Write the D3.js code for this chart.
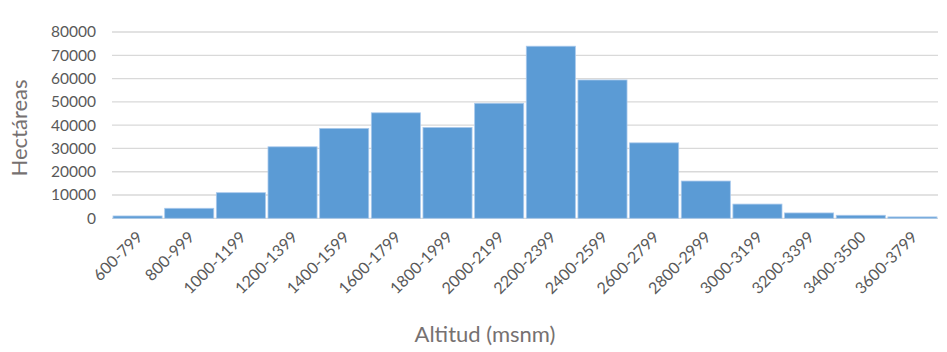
<!DOCTYPE html>
<html>
<head>
<meta charset="utf-8">
<script src="https://cdn.jsdelivr.net/npm/d3@7"></script>
<style>
  body { margin: 0; background: #fff; }
  svg { display: block; }
</style>
</head>
<body>
<svg id="chart" width="947" height="352"></svg>
<script>
// Altitude ranges (m a.s.l.) and area in hectares per range
const categories = ["600-799","800-999","1000-1199","1200-1399","1400-1599","1600-1799","1800-1999","2000-2199","2200-2399","2400-2599","2600-2799","2800-2999","3000-3199","3200-3399","3400-3500","3600-3799"];
const hectares = [1000, 4300, 11000, 30700, 38600, 45300, 39000, 49400, 73900, 59400, 32400, 16000, 6100, 2300, 1300, 600];
const yTicks = [0, 10000, 20000, 30000, 40000, 50000, 60000, 70000, 80000];

const svg = d3.select("#chart");
const margin = { left: 112, right: 9, top: 32, bottom: 134 };
const W = 947, H = 352;
const font = "Lato, 'Open Sans', sans-serif";

const x = d3.scaleBand().domain(categories)
  .range([margin.left, W - margin.right]).paddingInner(0.05).paddingOuter(0.02);
const y = d3.scaleLinear().domain([0, 80000]).range([H - margin.bottom + 0.3, margin.top]);

// horizontal gridlines
svg.append("g").selectAll("line").data(yTicks).join("line")
  .attr("x1", margin.left).attr("x2", W - margin.right)
  .attr("y1", d => y(d)).attr("y2", d => y(d))
  .attr("stroke", "#d9d9d9").attr("stroke-width", 1.3);

// bars
svg.append("g").selectAll("rect").data(hectares).join("rect")
  .attr("x", (d, i) => x(categories[i]))
  .attr("width", x.bandwidth())
  .attr("y", d => y(d))
  .attr("height", d => y(0) - y(d))
  .attr("fill", "#5b9bd5")
  .attr("stroke", "#a9c9ec").attr("stroke-width", 0.8);

// y axis labels
const yAxis = d3.axisLeft(y).tickValues(yTicks).tickSize(0).tickPadding(0).tickFormat(d3.format("d"));
const gy = svg.append("g").attr("transform", "translate(96,0)").call(yAxis);
gy.select(".domain").remove();
gy.selectAll("text").attr("font-family", font).attr("font-size", 15.5).attr("fill", "#595959");

// x axis labels, rotated
const xAxis = d3.axisBottom(x).tickSize(0).tickPadding(0);
const gx = svg.append("g").attr("transform", `translate(0,${y(0)})`).call(xAxis);
gx.select(".domain").remove();
gx.selectAll("text")
  .attr("font-family", font).attr("font-size", 16).attr("fill", "#595959")
  .attr("text-anchor", "end")
  .attr("dy", 0)
  .attr("transform", "translate(6,20) rotate(-45)");

// axis titles
svg.append("text")
  .attr("transform", "translate(27,128) rotate(-90)")
  .attr("text-anchor", "middle")
  .attr("font-family", font).attr("font-size", 22).attr("fill", "#767171")
  .text("Hectáreas");

svg.append("text")
  .attr("x", 485).attr("y", 342)
  .attr("text-anchor", "middle")
  .attr("font-family", font).attr("font-size", 22).attr("fill", "#767171")
  .text("Altitud (msnm)");
</script>
</body>
</html>
